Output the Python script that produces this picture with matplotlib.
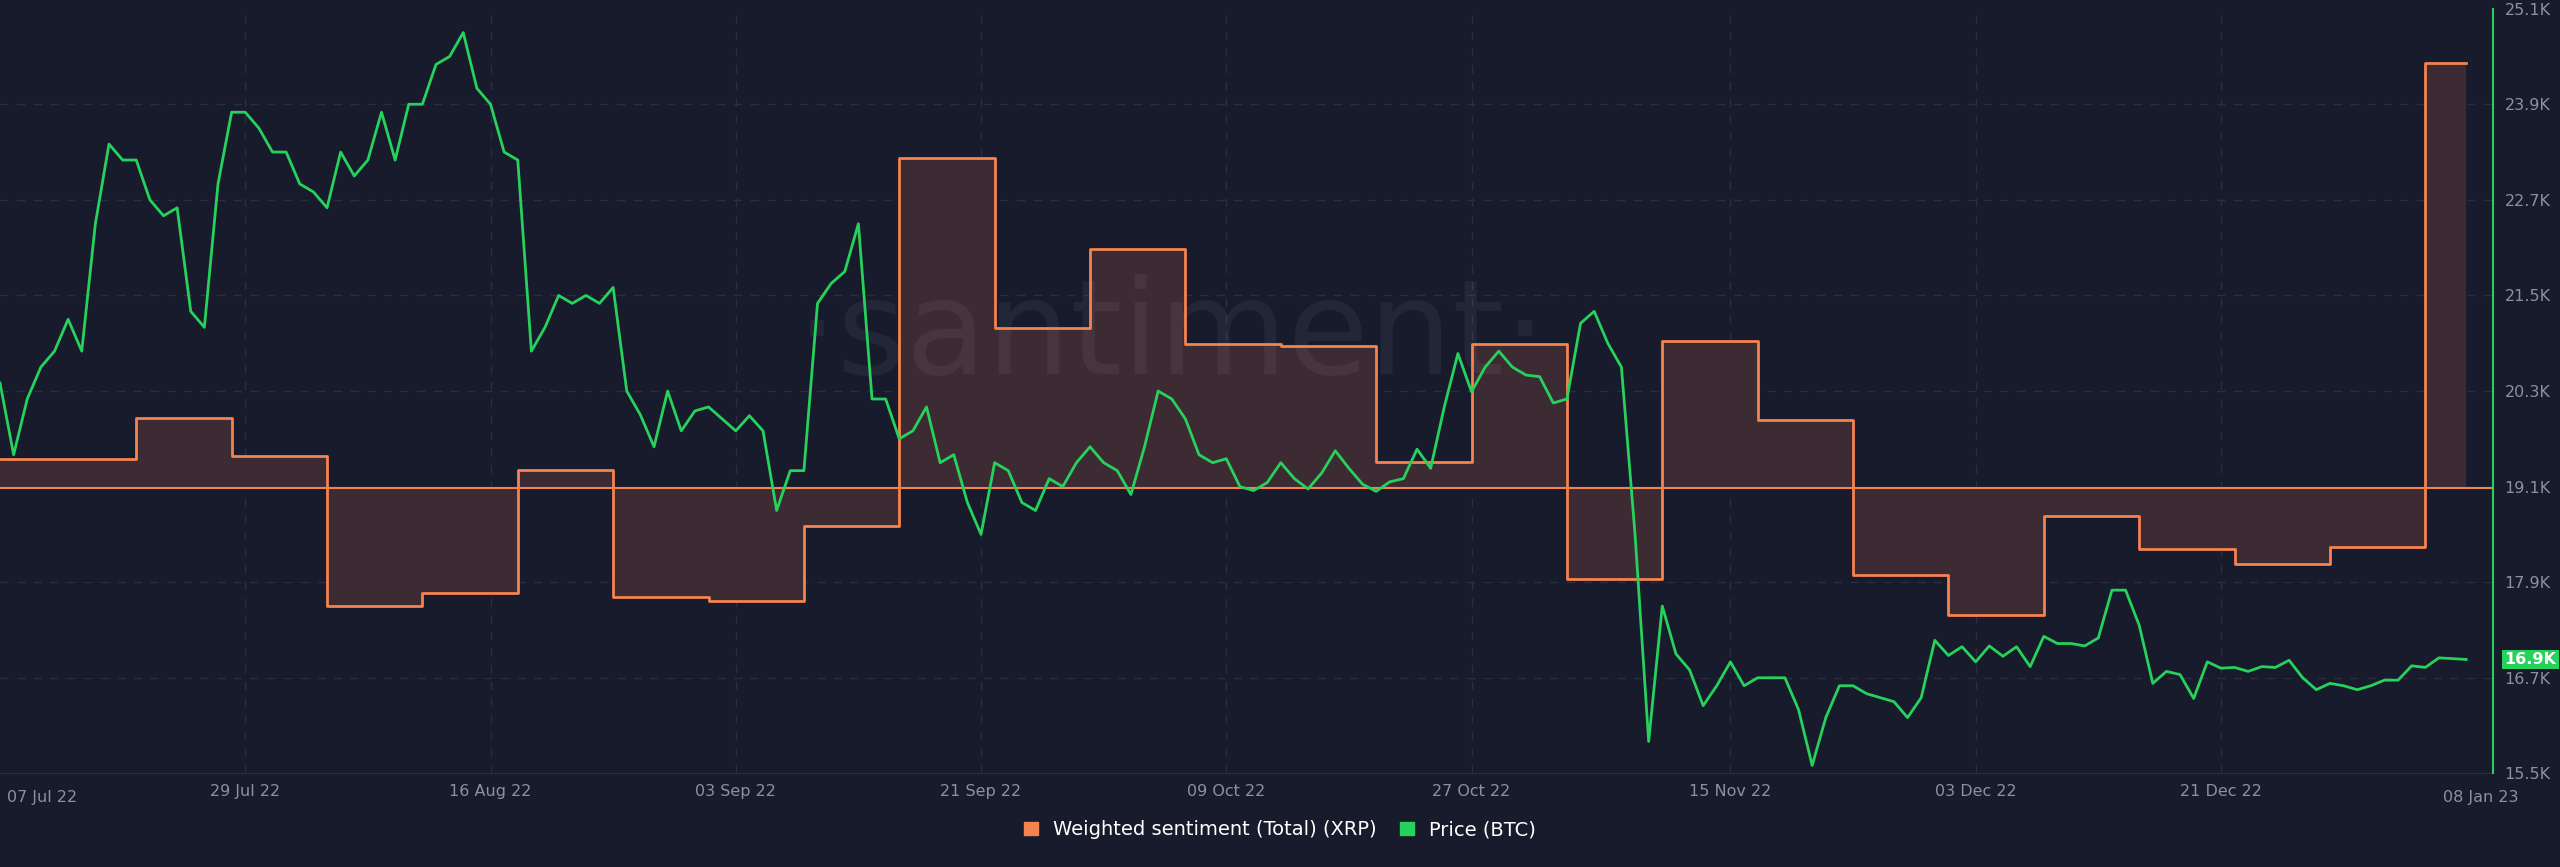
import numpy as np
import pandas as pd
import matplotlib
matplotlib.use("Agg")
import matplotlib.pyplot as plt
from matplotlib.patches import Patch

# ---- data ----
# weighted sentiment (XRP), weekly steps (arbitrary units, 0 = neutral line)
sent_dates = ["2022-07-11"] + list(pd.date_range("2022-07-21", periods=25, freq="7D").strftime("%Y-%m-%d"))
sent_values = [0.18, 0.43, 0.20, -0.72, -0.64, 0.11, -0.66, -0.69, -0.23, 2.02,
               0.98, 1.46, 0.88, 0.87, 0.16, 0.88, -0.55, 0.90, 0.42, -0.53,
               -0.77, -0.17, -0.37, -0.46, -0.36, 2.60]
sent_end = "2023-01-08"

# BTC price, daily (thousands USD) from 11 Jul 22
price_start = "2022-07-11"
price_k = [20.4, 19.5, 20.2, 20.6, 20.8, 21.2, 20.8, 22.4, 23.4, 23.2,
           23.2, 22.7, 22.5, 22.6, 21.3, 21.1, 22.9, 23.8, 23.8, 23.6,
           23.3, 23.3, 22.9, 22.8, 22.6, 23.3, 23.0, 23.2, 23.8, 23.2,
           23.9, 23.9, 24.4, 24.5, 24.8, 24.1, 23.9, 23.3, 23.2, 20.8,
           21.1, 21.5, 21.4, 21.5, 21.4, 21.6, 20.3, 20.0, 19.6, 20.3,
           19.8, 20.05, 20.1, 19.95, 19.8, 19.99, 19.8, 18.8, 19.3, 19.3,
           21.4, 21.65, 21.8, 22.4, 20.2, 20.2, 19.7, 19.8, 20.1, 19.4,
           19.5, 18.9, 18.5, 19.4, 19.3, 18.9, 18.8, 19.2, 19.1, 19.4,
           19.6, 19.4, 19.3, 19.0, 19.6, 20.3, 20.2, 19.95, 19.5, 19.4,
           19.45, 19.1, 19.05, 19.15, 19.4, 19.2, 19.07, 19.27, 19.55, 19.33,
           19.13, 19.04, 19.16, 19.2, 19.57, 19.33, 20.1, 20.77, 20.29, 20.6,
           20.8, 20.6, 20.5, 20.48, 20.15, 20.2, 21.15, 21.3, 20.9, 20.6,
           18.5, 15.9, 17.6, 17.0, 16.8, 16.35, 16.6, 16.9, 16.6, 16.7,
           16.7, 16.7, 16.3, 15.6, 16.2, 16.6, 16.6, 16.5, 16.45, 16.4,
           16.2, 16.45, 17.17, 16.98, 17.09, 16.9, 17.1, 16.97, 17.09, 16.84,
           17.22, 17.13, 17.13, 17.1, 17.2, 17.8, 17.8, 17.36, 16.63, 16.78,
           16.74, 16.44, 16.9, 16.82, 16.83, 16.78, 16.84, 16.83, 16.92, 16.7,
           16.55, 16.63, 16.6, 16.55, 16.6, 16.67, 16.67, 16.85, 16.83, 16.95,
           16.94, 16.93]

price_ticks = [15.5, 16.7, 17.9, 19.1, 20.3, 21.5, 22.7, 23.9, 25.1]
date_ticks = ["2022-07-29", "2022-08-16", "2022-09-03", "2022-09-21", "2022-10-09",
              "2022-10-27", "2022-11-15", "2022-12-03", "2022-12-21"]
date_labels = ["29 Jul 22", "16 Aug 22", "03 Sep 22", "21 Sep 22", "09 Oct 22",
               "27 Oct 22", "15 Nov 22", "03 Dec 22", "21 Dec 22"]

# ---- style ----
BG = "#181b2c"
GRID = "#2a2e40"
TXT = "#8b90a4"
ORANGE = "#f5834f"
GREEN = "#26d15c"
FILL = "#3d2b33"
PMIN, PMAX = 15.5, 25.1

fig = plt.figure(figsize=(25.6, 8.67), dpi=100, facecolor=BG)
ax = fig.add_axes([0.0, 0.108, 0.974, 0.882])
ax.set_facecolor(BG)
ax2 = ax.twinx()

# horizontal grid on the bottom axes so it sits under the sentiment fill
for v in price_ticks[1:-1]:
    f = (v - PMIN) / (PMAX - PMIN)
    ax.plot([0, 1], [f, f], transform=ax.transAxes, color=GRID, ls=(0, (6, 6)), lw=1, zorder=0.5)

sd = pd.to_datetime(sent_dates + [sent_end])
sv = np.array(sent_values + [sent_values[-1]])
ax.fill_between(sd, sv, 0, step="post", color=FILL, lw=0, zorder=1)
ax.step(sd, sv, where="post", color=ORANGE, lw=2, zorder=3)
ax.axhline(0, color=ORANGE, lw=1.5, zorder=2)
ax.set_ylim(-1.74, 2.93)
ax.set_yticks([])

pdates = pd.date_range(price_start, periods=len(price_k), freq="D")
ax2.plot(pdates, price_k, color=GREEN, lw=2, zorder=4)
ax2.set_ylim(PMIN, PMAX)
ax2.set_yticks(price_ticks)
ax2.set_yticklabels([f"{v:.1f}K" for v in price_ticks])
ax2.tick_params(axis="y", colors=TXT, labelsize=11.5, length=0, pad=8)

xmin = pd.Timestamp("2022-07-11")
xmax = pd.Timestamp("2023-01-10")
ax.set_xlim(xmin, xmax)
ax.set_xticks(pd.to_datetime(date_ticks))
ax.set_xticklabels(date_labels)
ax.tick_params(axis="x", colors=TXT, labelsize=11.5, length=0, pad=8)
ax.xaxis.grid(True, color=GRID, ls=(0, (6, 6)), lw=1, zorder=0.5)
ax.set_axisbelow(True)
ax.text(0.003, -0.022, "07 Jul 22", transform=ax.transAxes, color=TXT, fontsize=11.5, va="top", ha="left")
ax.text(0.995, -0.022, "08 Jan 23", transform=ax.transAxes, color=TXT, fontsize=11.5, va="top", ha="center")

for a in (ax, ax2):
    for s in a.spines.values():
        s.set_visible(False)
ax2.spines["right"].set_visible(True)
ax2.spines["right"].set_color(GREEN)
ax2.spines["right"].set_linewidth(1.5)
ax.spines["bottom"].set_visible(True)
ax.spines["bottom"].set_color(GRID)

# last price badge
ax2.annotate(f"{price_k[-1]:.1f}K", xy=(1, price_k[-1]), xycoords=("axes fraction", "data"),
             xytext=(8, 0), textcoords="offset points", va="center", ha="left",
             color="white", fontsize=11.5, fontweight="bold",
             bbox=dict(boxstyle="square,pad=0.15", fc=GREEN, ec="none"))

# watermark
ax.text(0.47, 0.57, "·santiment·", transform=ax.transAxes, ha="center", va="center",
        fontsize=95, color="white", alpha=0.05, zorder=1.5)

handles = [Patch(color=ORANGE, label="Weighted sentiment (Total) (XRP)"),
           Patch(color=GREEN, label="Price (BTC)")]
fig.legend(handles=handles, loc="center", bbox_to_anchor=(0.5, 0.043), ncol=2, frameon=False,
           fontsize=14, labelcolor="white", handlelength=0.7, handleheight=0.7, columnspacing=1.2)

fig.savefig("out.png", dpi=100, facecolor=BG)
